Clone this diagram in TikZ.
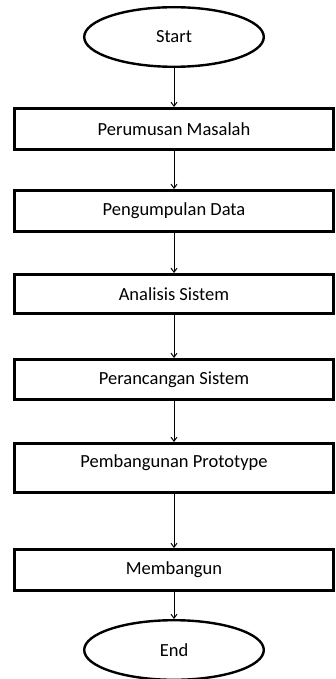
\documentclass[tikz,border=0pt]{standalone}
\usepackage{fontspec}
\setmainfont{Carlito}
\usetikzlibrary{arrows,arrows.meta,positioning,shapes.geometric}

\begin{document}
\begin{tikzpicture}[->,>={Straight Barb[length=4pt,width=6pt]},x=1pt,y=1pt,
    every node/.style={font=\fontsize{18.5}{22}\selectfont},
    step box/.style={rectangle,draw,line width=2.6pt,minimum width=319.4pt,minimum height=41.4pt},
    end node/.style={ellipse,draw,line width=2.4pt,minimum width=179.6pt,minimum height=59.6pt}]
    \useasboundingbox (0,0) rectangle (336,-679);

    \node[end node] (start) at (174,-37) {Start};
    \node[step box] (masalah) [below=39pt of start] {Perumusan Masalah};
    \node[step box] (data) [below=38pt of masalah] {Pengumpulan Data};
    \node[step box,minimum height=39.4pt] (analisis) [below=40pt of data] {Analisis Sistem};
    \node[step box,minimum height=40.4pt] (rancang) [below=43pt of analisis] {Perancangan Sistem};
    \node[step box,minimum height=49.4pt,text depth=14pt] (prototype) [below=41pt of rancang] {Pembangunan Prototype};
    \node[step box] (bangun) [below=54pt of prototype] {Membangun};
    \node[end node] (end) [below=27pt of bangun] {End};

    \path[line width=1pt]
    (start) edge (masalah)
    (masalah) edge (data)
    (data) edge (analisis)
    (analisis) edge (rancang)
    (rancang) edge (prototype)
    (prototype) edge (bangun)
    (bangun) edge (end);
\end{tikzpicture}
\end{document}
